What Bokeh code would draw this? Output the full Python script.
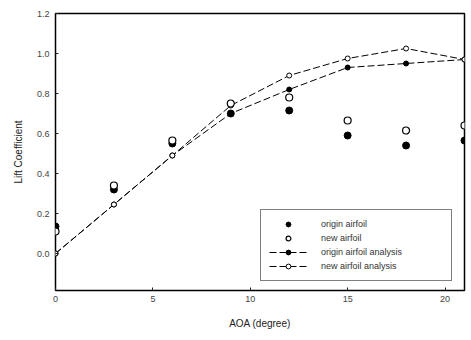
from bokeh.plotting import figure
from bokeh.models import Legend, LegendItem, FixedTicker, Range1d
from bokeh.embed import file_html
from bokeh.resources import INLINE

aoa = [0, 3, 6, 9, 12, 15, 18, 21]
origin_airfoil = [0.135, 0.32, 0.55, 0.70, 0.715, 0.59, 0.54, 0.565]
new_airfoil = [0.11, 0.34, 0.565, 0.75, 0.78, 0.665, 0.615, 0.64]
origin_analysis = [0.0, 0.245, 0.49, 0.70, 0.82, 0.93, 0.95, 0.97]
new_analysis = [0.0, 0.245, 0.49, 0.74, 0.89, 0.975, 1.025, 0.97]

x_ticks = [0, 5, 10, 15, 20]
y_ticks = [0.0, 0.2, 0.4, 0.6, 0.8, 1.0, 1.2]

FONT = "Liberation Sans"

p = figure(width=471, height=340, output_backend="svg", toolbar_location=None,
           x_range=Range1d(0, 21), y_range=Range1d(-0.185, 1.2),
           min_border_left=55, min_border_top=13, min_border_right=7, min_border_bottom=50)
p.frame_width = 409
p.frame_height = 277
p.outline_line_color = "black"
p.outline_line_width = 1.5
p.grid.visible = False
p.background_fill_color = "white"

for ax in (p.xaxis[0], p.yaxis[0]):
    ax.axis_line_color = None
    ax.major_tick_in = 3
    ax.major_tick_out = 0
    ax.minor_tick_line_color = None
    ax.major_tick_line_color = "#222"
    ax.major_label_text_font = FONT
    ax.major_label_text_font_size = "9px"
    ax.major_label_text_color = "#444"
    ax.axis_label_text_font = FONT
    ax.axis_label_text_font_size = "10px"
    ax.axis_label_text_font_style = "normal"
    ax.axis_label_text_color = "#222"

p.xaxis.ticker = FixedTicker(ticks=x_ticks)
p.yaxis.ticker = FixedTicker(ticks=y_ticks)
p.xaxis.major_label_overrides = {t: str(t) for t in x_ticks}
p.yaxis.major_label_overrides = {t: f"{t:.1f}" for t in y_ticks}
p.xaxis.axis_label = "AOA (degree)"
p.yaxis.axis_label = "Lift Coefficient"
p.xaxis.major_label_standoff = 5
p.xaxis.axis_label_standoff = 13
p.yaxis.major_label_standoff = 6
p.yaxis.axis_label_standoff = 10

r_oa_line = p.line(aoa, origin_analysis, line_color="black", line_width=1, line_dash="7 3")
r_oa_pts = p.scatter(aoa, origin_analysis, marker="circle", size=5, fill_color="black", line_color="black")
r_na_line = p.line(aoa, new_analysis, line_color="black", line_width=1, line_dash="7 3")
r_na_pts = p.scatter(aoa, new_analysis, marker="circle", size=5, fill_color="white", line_color="black")
r_o = p.scatter(aoa, origin_airfoil, marker="circle", size=7, fill_color="black", line_color="black")
r_n = p.scatter(aoa, new_airfoil, marker="circle", size=7, fill_color="white", line_color="black", line_width=1.2)

legend = Legend(items=[
    LegendItem(label="origin airfoil", renderers=[r_o]),
    LegendItem(label="new airfoil", renderers=[r_n]),
    LegendItem(label="origin airfoil analysis", renderers=[r_oa_line, r_oa_pts]),
    LegendItem(label="new airfoil analysis", renderers=[r_na_line, r_na_pts]),
], location=(205, 9))
legend.border_line_color = "black"
legend.border_line_width = 1.5
legend.padding = 8
legend.margin = 0
legend.spacing = 2
legend.glyph_width = 38
legend.glyph_height = 12
legend.label_standoff = 14
legend.label_width = 122
legend.label_height = 12
legend.label_text_font = FONT
legend.label_text_font_size = "9px"
legend.label_text_color = "#333"
legend.background_fill_alpha = 1
p.add_layout(legend, "center")

open("out.html", "w").write(file_html(p, INLINE))
